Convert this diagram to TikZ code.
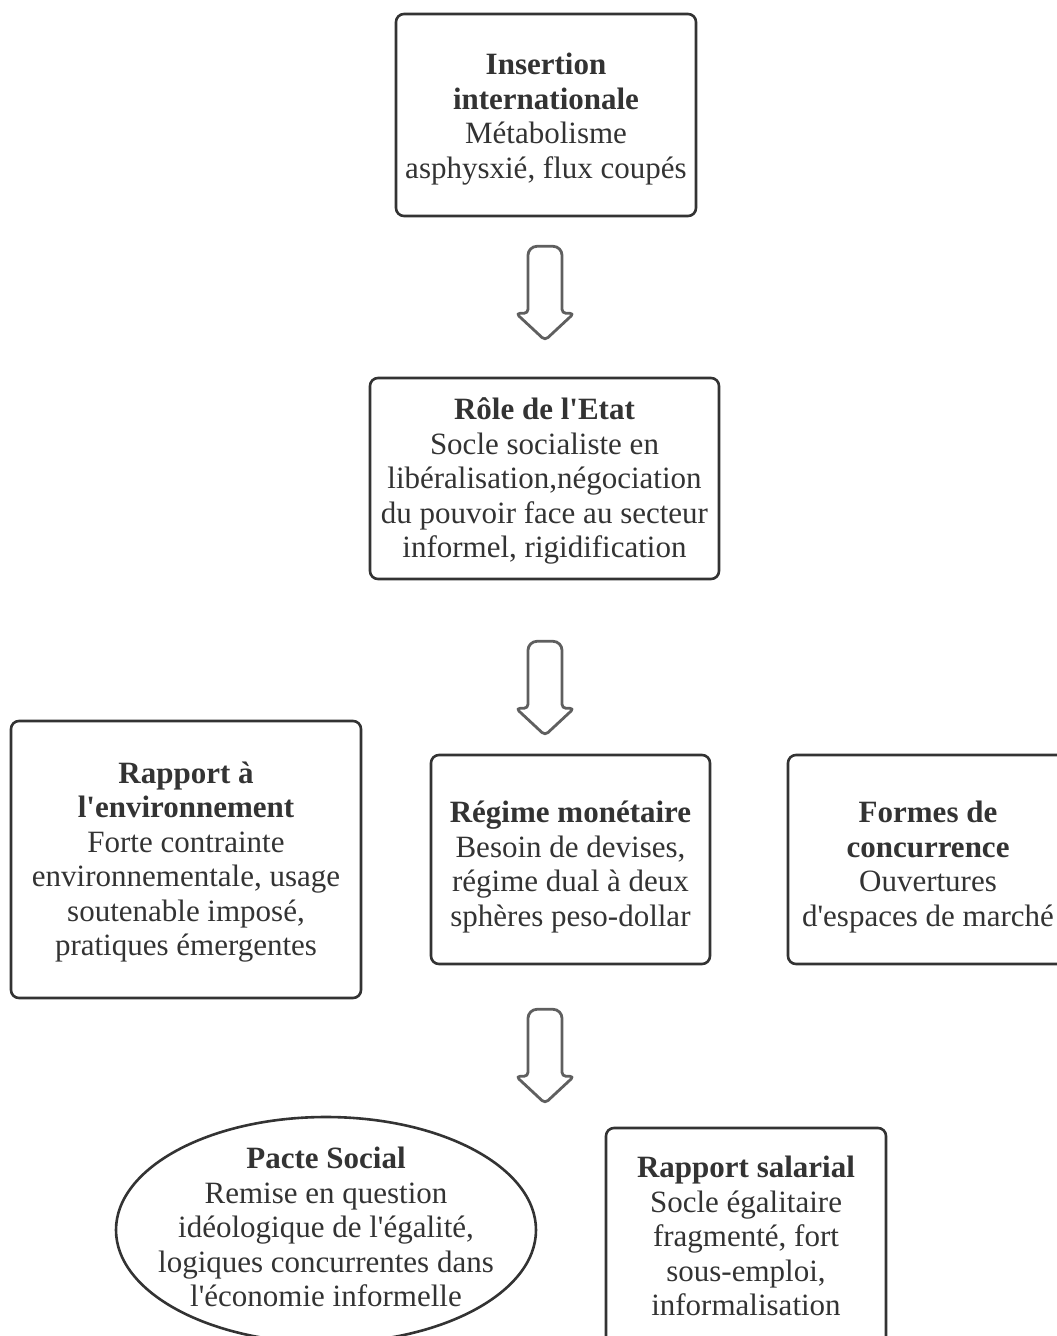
\documentclass[tikz,border=0pt]{standalone}
\usepackage{fontspec}
\setmainfont{Liberation Serif}
\usetikzlibrary{shapes.geometric,calc,positioning}
\definecolor{BoxGray}{RGB}{51,51,51}
\definecolor{ArrowGray}{RGB}{95,95,95}
\newcommand{\ap}{\textquotesingle}

\begin{document}
\begin{tikzpicture}[x=1pt,y=-1pt,
	block/.style={draw=BoxGray,line width=2.6pt,rounded corners=8pt,inner sep=0pt},
	oval/.style={block,ellipse,rounded corners=0pt},
	boxtext/.style={align=center,text=BoxGray,font=\fontsize{31}{34.5}\selectfont,inner sep=0pt},
	arrowline/.style={draw=ArrowGray,line width=2.8pt,line join=round},
	downarrow/.pic={
		\draw[arrowline] (-17,67) [rounded corners=9pt] -- (-17,0) -- (17,0)
			[rounded corners=4pt] -- (17,67) -- (29,67) -- (0,94) -- (-29,67) -- cycle;}]
\useasboundingbox (0,0) rectangle (1057,1336);
% boxes
\node[block,minimum width=300pt,minimum height=202pt,
	label={[boxtext,name=ins-txt,yshift=-4pt]center:{\textbf{Insertion}\\ \textbf{internationale}\\ Métabolisme\\ asphysxié, flux coupés}}]
	(ins) at (546,115) {};
\node[block,minimum width=349pt,minimum height=201pt,
	label={[boxtext,name=etat-txt,yshift=-2.5pt]center:{\textbf{Rôle de l\ap Etat}\\ Socle socialiste en\\ libéralisation,négociation\\ du pouvoir face au secteur\\ informel, rigidification}}]
	(etat) at (544.5,478.5) {};
\node[block,minimum width=350pt,minimum height=277pt,
	label={[boxtext,name=env-txt,yshift=-2.5pt]center:{\textbf{Rapport à}\\ \textbf{l\ap environnement}\\ Forte contrainte\\ environnementale, usage\\ soutenable imposé,\\ pratiques émergentes}}]
	(env) at (186,859.5) {};
\node[block,minimum width=279pt,minimum height=209pt,
	label={[boxtext,name=regime-txt,yshift=-7.5pt]center:{\textbf{Régime monétaire}\\ Besoin de devises,\\ régime dual à deux\\ sphères peso-dollar}}]
	(regime) at (570.5,859.5) {};
\node[block,minimum width=280pt,minimum height=209pt,
	label={[boxtext,name=formes-txt,yshift=-7.5pt]center:{\textbf{Formes de}\\ \textbf{concurrence}\\ Ouvertures\\ d\ap espaces de marché}}]
	(formes) at (928,859.5) {};
\node[oval,minimum width=420pt,minimum height=226pt,
	label={[boxtext,name=pacte-txt,yshift=3pt]center:{\textbf{Pacte Social}\\ Remise en question\\ idéologique de l\ap égalité,\\ logiques concurrentes dans\\ l\ap économie informelle}}]
	(pacte) at (326,1230) {};
\node[block,minimum width=280pt,minimum height=216pt,
	label={[boxtext,name=salarial-txt]center:{\textbf{Rapport salarial}\\ Socle égalitaire\\ fragmenté, fort\\ sous-emploi,\\ informalisation}}]
	(salarial) at (746,1236) {};
% block arrows
\pic at ($(ins.south)+(-1,29)$) {downarrow};
\pic at ($(etat.south)+(0.5,61)$) {downarrow};
\pic at ($(regime.south)+(-25.5,44)$) {downarrow};
\end{tikzpicture}
\end{document}
